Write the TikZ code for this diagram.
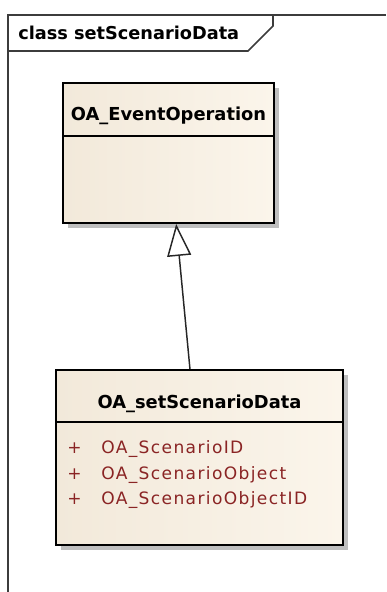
\documentclass[tikz,border=0pt]{standalone}
\usepackage{fontspec}
\setmainfont{DejaVu Sans}
\newfontfamily\attrfont[LetterSpace=8]{DejaVu Sans}
\usetikzlibrary{arrows.meta,shadows,calc}

\definecolor{framegray}{HTML}{3C3C3C}
\definecolor{clsA}{HTML}{F2E9DA}
\definecolor{clsB}{HTML}{FBF5EB}
\definecolor{attrred}{HTML}{8A2424}

\tikzset{
  classbox/.style={draw=black, line width=1.5pt, rectangle, inner sep=0pt,
    left color=clsA, right color=clsB,
    drop shadow={shadow xshift=3.5pt, shadow yshift=-3.5pt, fill=black!25, opacity=1}},
  clsname/.style={font=\bfseries\fontsize{13.4}{15}\selectfont, inner sep=0pt, anchor=base},
  attr/.style={font=\attrfont\fontsize{12.8}{15}\selectfont, text=attrred, inner sep=0pt, anchor=base west},
  framestyle/.style={draw=framegray, line width=1.2pt},
  generalize/.style={draw=black!85, line width=1.1pt,
    -{Triangle[open, length=24pt, width=18pt, fill=white]}}
}

\begin{document}
\begin{tikzpicture}[x=0.75pt, y=-0.75pt]
  \useasboundingbox (0,0) rectangle (386,592);

  % diagram frame with its name tab
  \draw[framestyle] (8,592) -- (8,15) -- (386,15);
  \draw[framestyle] (8,51) -- (248,51) -- (273,26) -- (273,15);
  \node[font=\bfseries\fontsize{13.3}{15}\selectfont, inner sep=0pt, anchor=base west]
    (frametitle) at (18,40) {class setScenarioData};

  % base class
  \node[classbox, minimum width=158.25pt, minimum height=105pt] (up) at (168.5,153) {};
  \draw[line width=1.5pt] ($(up.north west)+(0,54)$) -- ($(up.north east)+(0,54)$);
  \node[clsname] (upname) at (168.5,120) {OA\_EventOperation};

  % derived class
  \node[classbox, minimum width=215.25pt, minimum height=131.25pt] (low) at (199.5,457.5) {};
  \draw[line width=1.5pt] ($(low.north west)+(0,53)$) -- ($(low.north east)+(0,53)$);
  \node[clsname] (lowname) at (199.5,408) {OA\_setScenarioData};

  % attributes
  \foreach \n/\t/\yy in {a1/OA\_ScenarioID/453.5, a2/OA\_ScenarioObject/479, a3/OA\_ScenarioObjectID/504}{
    \node[attr] (\n p) at (67,\yy) {+};
    \node[attr] (\n) at (101,\yy) {\t};
  }

  % generalization
  \draw[generalize] ($(low.north west)!0.467!(low.north east)$) -- ($(up.south west)!0.536!(up.south east)$);
\end{tikzpicture}
\end{document}
